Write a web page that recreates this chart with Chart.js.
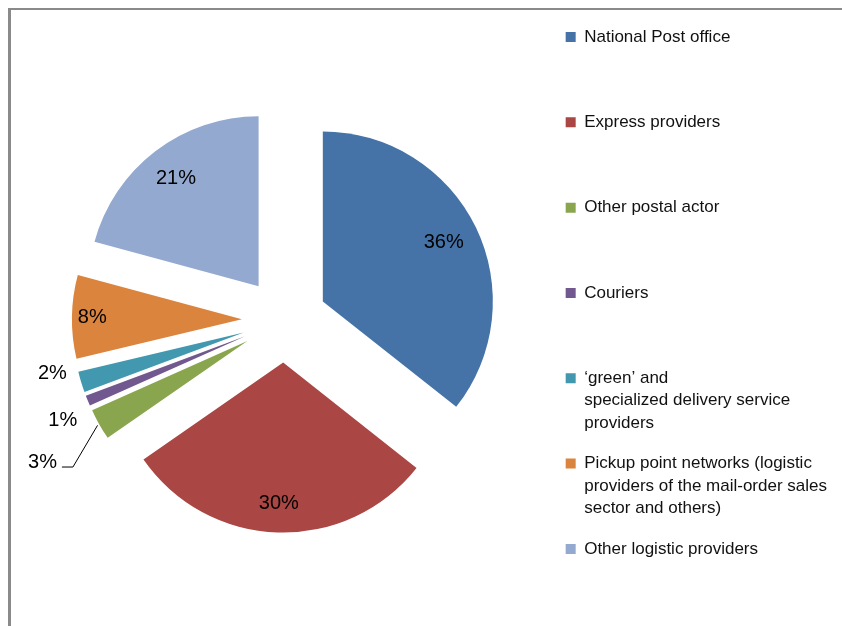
<!DOCTYPE html>
<html>
<head>
<meta charset="utf-8">
<script src="https://cdn.jsdelivr.net/npm/chart.js@4.4.1/dist/chart.umd.min.js"></script>
<style>
  html, body { margin: 0; padding: 0; background: #fff; overflow: hidden; }
  #frame { position: absolute; left: 8px; top: 8px; width: 900px; height: 700px;
           border-left: 3px solid #8a8a8a; border-top: 2px solid #8a8a8a; }
  #wrap { position: absolute; left: 0; top: 0; width: 842px; height: 640px; }
</style>
</head>
<body>
<div id="frame"></div>
<div id="wrap"><canvas id="myChart" width="842" height="640"></canvas></div>
<script>
// data
const categories = [
    "National Post office",
    "Express providers",
    "Other postal actor",
    "Couriers",
    "\u2018green\u2019 and\nspecialized delivery service\nproviders",
    "Pickup point networks (logistic\nproviders of the mail-order sales\nsector and others)",
    "Other logistic providers"
];
const shares = [36, 30, 3, 1, 2, 8, 21];
const sliceColors = ['#4572A7', '#AA4643', '#89A54E', '#71588F', '#4198AF', '#DB843D', '#93A9CF'];

// label placement (fraction of radius from exploded centre, angle nudge in degrees)
const labelDist = [0.79, 0.83, 1.40, 1.18, 1.15, 0.88, 0.80];
const labelNudge = [0, 0, -1, -2, 4, 0, 0];
const EXPLODE = 42.6;
const FONT = '"Liberation Sans", Arial, sans-serif';

// draw every arc pushed out along its mid angle
const explodePlugin = {
    id: 'explode',
    beforeDatasetDraw(chart, args) {
        const ctx = chart.ctx;
        args.meta.data.forEach(arc => {
            const mid = (arc.startAngle + arc.endAngle) / 2;
            ctx.save();
            ctx.translate(Math.cos(mid) * EXPLODE, Math.sin(mid) * EXPLODE);
            arc.draw(ctx);
            ctx.restore();
        });
        return false;
    }
};

const pctPlugin = {
    id: 'pct',
    afterDatasetsDraw(chart) {
        const ctx = chart.ctx;
        const meta = chart.getDatasetMeta(0);
        ctx.save();
        ctx.font = '20px ' + FONT;
        ctx.fillStyle = '#000';
        ctx.textAlign = 'center';
        ctx.textBaseline = 'middle';
        meta.data.forEach((arc, i) => {
            const mid = (arc.startAngle + arc.endAngle) / 2;
            const a = mid + labelNudge[i] * Math.PI / 180;
            const d = EXPLODE + arc.outerRadius * labelDist[i];
            const x = arc.x + Math.cos(a) * d;
            const y = arc.y + Math.sin(a) * d;
            const txt = shares[i] + '%';
            ctx.fillText(txt, x, y);
            if (labelDist[i] > 1.3) {
                // leader line to the slice edge
                const w = ctx.measureText(txt).width;
                const sx = x + w / 2 + 5, sy = y + 5;
                const ex = arc.x + Math.cos(mid) * (EXPLODE + arc.outerRadius + 2);
                const ey = arc.y + Math.sin(mid) * (EXPLODE + arc.outerRadius + 2);
                ctx.strokeStyle = '#000';
                ctx.lineWidth = 1;
                ctx.beginPath();
                ctx.moveTo(sx, sy);
                ctx.lineTo(sx + 11, sy);
                ctx.lineTo(ex, ey);
                ctx.stroke();
            }
        });
        ctx.restore();
    }
};

const ctx = document.getElementById('myChart').getContext('2d');
const pieChart = new Chart(ctx, {
    type: 'pie',
    data: {
        labels: categories,
        datasets: [{
            data: shares,
            backgroundColor: sliceColors,
            borderColor: sliceColors,
            borderWidth: 0,
            radius: 170
        }]
    },
    options: {
        responsive: false,
        animation: false,
        layout: { padding: { left: 21.3, right: 5, top: 10.5, bottom: 10.5 } },
        plugins: {
            tooltip: { enabled: false },
            legend: {
                position: 'right',
                align: 'start',
                labels: {
                    boxWidth: 10,
                    boxHeight: 10,
                    padding: 18,
                    color: '#111',
                    font: { family: FONT, size: 17, lineHeight: 1.32 },
                    generateLabels(chart) {
                        const items = Chart.overrides.pie.plugins.legend.labels.generateLabels(chart);
                        items.forEach((item, i) => {
                            const lines = categories[i].split('\n');
                            if (i < categories.length - 1) {
                                while (lines.length < 3) lines.push('');
                                item.text = lines;
                            } else {
                                item.text = lines[0];
                            }
                        });
                        return items;
                    }
                }
            }
        }
    },
    plugins: [explodePlugin, pctPlugin]
});
</script>
</body>
</html>
